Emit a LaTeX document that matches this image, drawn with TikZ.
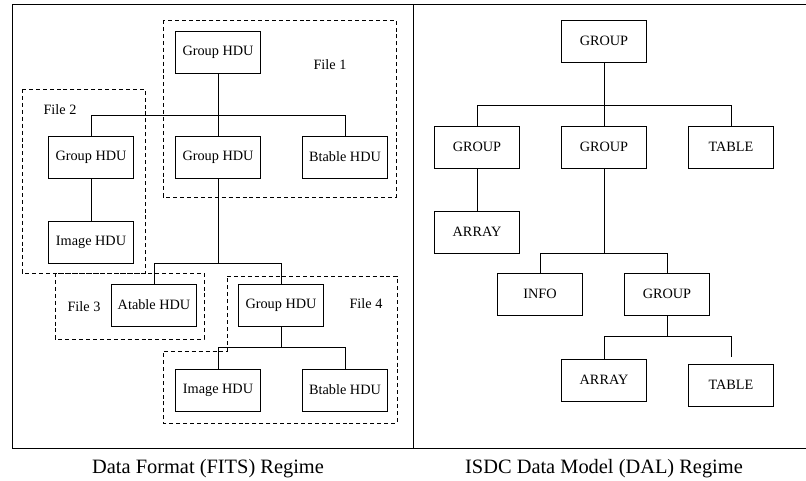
\documentclass[tikz,border=0pt]{standalone}
\usepackage{fontspec}
\setmainfont{Liberation Serif}
\newcommand{\bw}{63.5pt}
\newcommand{\bh}{31.5pt}

\begin{document}
\begin{tikzpicture}[x=0.75pt,y=-0.75pt,line width=0.75pt,
    hdu/.style={draw, rectangle, minimum width=\bw, minimum height=\bh, inner sep=0pt, font=\fontsize{10.7}{12}\selectfont},
    file/.style={dashed, dash pattern=on 3pt off 2.2pt},
    lbl/.style={inner sep=0pt, font=\fontsize{10.7}{12}\selectfont},
    caption/.style={inner sep=0pt, font=\fontsize{15.3}{18}\selectfont}]
    \useasboundingbox (0,0) rectangle (806,480);

    % Frame
    \draw (806,4) -- (12,4) -- (12,448) -- (806,448);
    \draw (413,4) -- (413,448);

    % FITS side
    \node[hdu] (fgtop) at (218,52) {Group HDU};
    \node[hdu] (fgl) at (91,157) {Group HDU};
    \node[hdu] (fgm) at (218,157) {Group HDU};
    \node[hdu] (fbt) at (345,157) {Btable HDU};
    \node[hdu] (fimg) at (91,242) {Image HDU};
    \node[hdu] (fat) at (154,305) {Atable HDU};
    \node[hdu] (fg4) at (281,305) {Group HDU};
    \node[hdu] (fimg4) at (218,390) {Image HDU};
    \node[hdu] (fbt4) at (345,390) {Btable HDU};

    \draw (fgtop.south) -- ++(0,42) -| (fgl.north);
    \draw (fgtop.south) -- (fgm.north);
    \draw (fgtop.south) -- ++(0,42) -| (fbt.north);
    \draw (fgl.south) -- (fimg.north);
    \draw (fgm.south) -- ++(0,85) -| (fat.north);
    \draw (fgm.south) -- ++(0,85) -| (fg4.north);
    \draw (fg4.south) -- ++(0,21) -| (fimg4.north);
    \draw (fg4.south) -- ++(0,21) -| (fbt4.north);

    % File boundaries
    \draw[file] (163,20) rectangle (396,197);
    \draw[file] (22,89) rectangle (145,273);
    \draw[file] (55,273) rectangle (204,339);
    \draw[file] (227,276) -- (397,276) -- (397,423) -- (163,423) -- (163,351) -- (227,351) -- cycle;

    \node[lbl] (file1) at (330,65) {File 1};
    \node[lbl] (file2) at (60,110) {File 2};
    \node[lbl] (file3) at (84,307) {File 3};
    \node[lbl] (file4) at (366,304) {File 4};

    % DAL side
    \node[hdu] (dgtop) at (604,41) {GROUP};
    \node[hdu] (dgl) at (477,147) {GROUP};
    \node[hdu] (dgm) at (604,147) {GROUP};
    \node[hdu] (dtab) at (731,147) {TABLE};
    \node[hdu] (darr) at (477,232) {ARRAY};
    \node[hdu] (dinfo) at (540,294) {INFO};
    \node[hdu] (dg2) at (667,294) {GROUP};
    \node[hdu] (darr2) at (604,380) {ARRAY};
    \node[hdu] (dtab2) at (731,385) {TABLE};

    \draw (dgtop.south) -- ++(0,43) -| (dgl.north);
    \draw (dgtop.south) -- (dgm.north);
    \draw (dgtop.south) -- ++(0,43) -| (dtab.north);
    \draw (dgl.south) -- (darr.north);
    \draw (dgm.south) -- ++(0,85) -| (dinfo.north);
    \draw (dgm.south) -- ++(0,85) -| (dg2.north);
    \draw (dg2.south) -- ++(0,21) -| (darr2.north);
    \draw[shorten >=5] (dg2.south) -- ++(0,21) -| (dtab2.north);

    % Captions
    \node[caption] (capfits) at (208,469) {Data Format (FITS) Regime};
    \node[caption] (capdal) at (604,469) {ISDC Data Model (DAL) Regime};
\end{tikzpicture}
\end{document}
